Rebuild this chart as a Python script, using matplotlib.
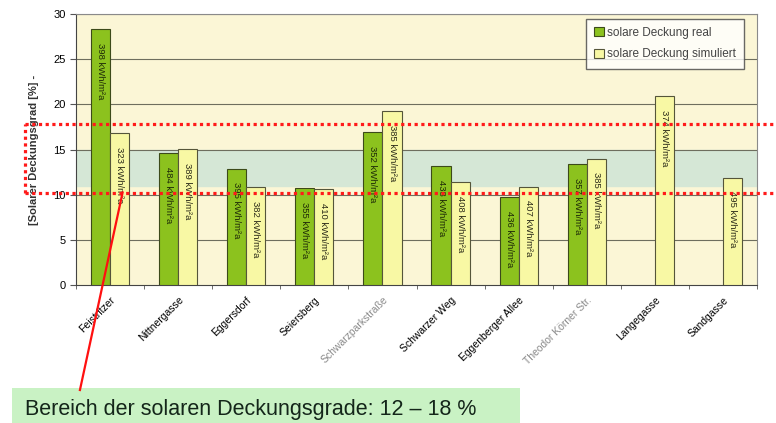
import matplotlib.pyplot as plt
import numpy as np
from matplotlib.lines import Line2D
from matplotlib.patches import Rectangle
from matplotlib.transforms import blended_transform_factory

plt.rcParams['font.family'] = ['Liberation Sans', 'DejaVu Sans']

sites = ["Feistritzer", "Nittnergasse", "Eggersdorf", "Seiersberg", "Schwarzparkstraße",
         "Schwarzer Weg", "Eggenberger Allee", "Theodor Körner Str.", "Langegasse", "Sandgasse"]
real = [28.3, 14.6, 12.9, 10.7, 16.9, 13.2, 9.7, 13.4, np.nan, np.nan]
simulated = [16.8, 15.1, 10.8, 10.6, 19.3, 11.4, 10.9, 14.0, 20.9, 11.9]
real_yield = ["398 kWh/m²a", "484 kWh/m²a", "395 kWh/m²a", "355 kWh/m²a", "352 kWh/m²a",
              "438 kWh/m²a", "436 kWh/m²a", "357 kWh/m²a", None, None]
sim_yield = ["323 kWh/m²a", "389 kWh/m²a", "382 kWh/m²a", "410 kWh/m²a", "385 kWh/m²a",
             "408 kWh/m²a", "407 kWh/m²a", "385 kWh/m²a", "374 kWh/m²a", "495 kWh/m²a"]
faded = ["Schwarzparkstraße", "Theodor Körner Str."]

fig = plt.figure(figsize=(7.76, 4.23), dpi=100)
ax = fig.add_axes([0.098, 0.326, 0.8775, 0.641])
ax.set_facecolor("#fbf6d6")

x = np.arange(len(sites))
w = 0.28

# target band and grid
ax.axhspan(11, 15, color="#d5e7d6", zorder=0)
for yv in range(5, 31, 5):
    ax.axhline(yv, color="#6e6e5e", lw=0.8, zorder=1)

ax.bar(x - w / 2, real, w, color="#8cc21e", edgecolor="#3c4a1a", lw=0.8, zorder=3,
       label="solare Deckung real")
ax.bar(x + w / 2, simulated, w, color="#f8f8a4", edgecolor="#55553a", lw=0.8, zorder=3,
       label="solare Deckung simuliert")

for i in range(len(sites)):
    if real_yield[i]:
        ax.annotate(real_yield[i], (x[i] - w / 2, real[i]), xytext=(0, -10),
                    textcoords="offset points", rotation=-90, ha="center", va="top",
                    fontsize=6.8, color="#1e2a08", zorder=4)
    ax.annotate(sim_yield[i], (x[i] + w / 2, simulated[i]), xytext=(0, -10),
                textcoords="offset points", rotation=-90, ha="center", va="top",
                fontsize=6.8, color="#2a2a18", zorder=4)

ax.set_xlim(-0.5, len(sites) - 0.5)
ax.set_ylim(0, 30)
ax.set_yticks(range(0, 31, 5))
ax.tick_params(axis="y", labelsize=8, length=4, color="#555555")
ax.set_xticks(x)
ax.set_xticklabels(sites, rotation=45, ha="right", rotation_mode="anchor", fontsize=7.5)
for lbl in ax.get_xticklabels():
    if lbl.get_text() in faded:
        lbl.set_color("#8a8a8a")
ax.set_xticks(np.arange(-0.5, len(sites)), minor=True)
ax.tick_params(axis="x", which="major", length=0, pad=7)
ax.tick_params(axis="x", which="minor", length=3, color="#555555")
for side in ["top", "right", "left", "bottom"]:
    ax.spines[side].set_color("#8a8a8a")
ax.spines["left"].set_color("#444444")
ax.spines["bottom"].set_color("#444444")

ax.set_ylabel("[Solarer Deckungsgrad [%] -", fontsize=8, fontweight="bold", color="#333333",
              labelpad=10)

leg = ax.legend(loc="upper right", bbox_to_anchor=(0.99, 1.004), fontsize=8.5, frameon=True,
                fancybox=False, edgecolor="#444444", handlelength=0.8, handleheight=0.8,
                handletextpad=0.3, borderpad=0.7, labelspacing=0.8)
leg.get_frame().set_linewidth(1.0)
for t in leg.get_texts():
    t.set_color("#444444")

# dotted red frame around the 10-18 % range
tr = blended_transform_factory(fig.transFigure, ax.transData)
dot = dict(color="#ff1a1a", lw=2.3, linestyle=(0, (1.0, 1.1)), dash_capstyle="butt",
           transform=tr, clip_on=False, zorder=6)
fig.add_artist(Line2D([0.032, 1.0], [17.8, 17.8], **dot))
fig.add_artist(Line2D([0.032, 1.0], [10.2, 10.2], **dot))
fig.add_artist(Line2D([0.032, 0.032], [10.2, 17.8], **dot))

# note box with pointer
fig.add_artist(Rectangle((0.015, 0.0), 0.655, 0.083, transform=fig.transFigure,
                         facecolor="#c9f2c4", edgecolor="none", zorder=5))
fig.text(0.032, 0.033, "Bereich der solaren Deckungsgrade: 12 – 18 %", fontsize=15.5,
         color="#14261a", va="center", ha="left", zorder=6)
fig.add_artist(Line2D([0.103, 0.158], [0.078, 0.545], color="#ff1010", lw=1.6,
                      transform=fig.transFigure, zorder=6))

fig.savefig("out.png", dpi=100, facecolor="white")
